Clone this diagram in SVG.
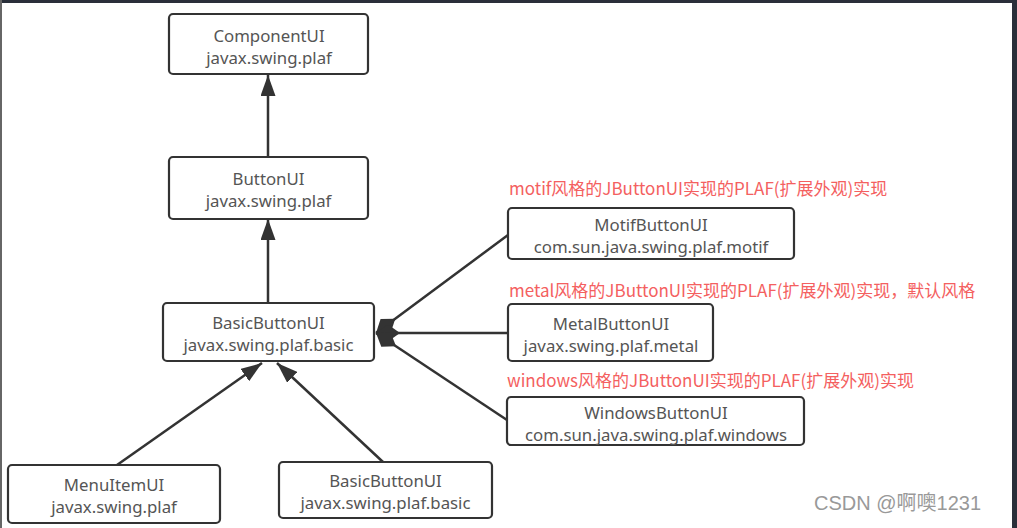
<svg xmlns="http://www.w3.org/2000/svg" width="1017" height="528" viewBox="0 0 1017 528">
<style>
.box{fill:#fff;stroke:#333;stroke-width:2.2}
.t{font-family:"Noto Sans","Noto Sans CJK SC",sans-serif;font-size:16.8px;fill:#555;text-anchor:middle}
.lbl{font-family:"Noto Sans CJK SC","Noto Sans",sans-serif;font-size:17px;fill:#f46060}
.ln{stroke:#333;stroke-width:2.5;fill:none}
</style>
<defs>
<marker id="tri" viewBox="0 0 21 15" refX="21" refY="7.5" markerWidth="21" markerHeight="15" markerUnits="userSpaceOnUse" orient="auto"><path d="M0,0 L21,7.5 L0,15 Z" fill="#333"/></marker>
<marker id="dia" viewBox="0 0 24 17" refX="24" refY="8.5" markerWidth="24" markerHeight="17" markerUnits="userSpaceOnUse" orient="auto"><path d="M0,8.5 L12,0 L24,8.5 L12,17 Z" fill="#333"/></marker>
</defs>
<rect x="0" y="0" width="1017" height="528" fill="#fff"/>
<rect x="0" y="0" width="1017" height="3" fill="#2a2f3a"/>
<rect x="0" y="0" width="2" height="528" fill="#666"/>
<rect x="1012" y="0" width="5" height="528" fill="#2a2f3a"/>
<g id="connectors">
<line class="ln" x1="268" y1="157" x2="268" y2="75" marker-end="url(#tri)"/>
<line class="ln" x1="268" y1="303" x2="268" y2="219" marker-end="url(#tri)"/>
<line class="ln" x1="117" y1="465" x2="262" y2="363" marker-end="url(#tri)"/>
<line class="ln" x1="383" y1="462" x2="277" y2="363" marker-end="url(#tri)"/>
<line class="ln" x1="508" y1="235" x2="376" y2="333" marker-end="url(#dia)"/>
<line class="ln" x1="508" y1="333" x2="376" y2="333" marker-end="url(#dia)"/>
<line class="ln" x1="507" y1="420" x2="376" y2="333" marker-end="url(#dia)"/>
</g>
<g id="componentui"><rect class="box" x="169" y="14" width="199" height="60" rx="4"/><text class="t" x="269" y="42">ComponentUI</text><text class="t" x="269" y="64">javax.swing.plaf</text></g>
<g id="buttonui"><rect class="box" x="169" y="157" width="199" height="62" rx="4"/><text class="t" x="268.5" y="185">ButtonUI</text><text class="t" x="268.5" y="207">javax.swing.plaf</text></g>
<g id="basicbuttonui"><rect class="box" x="163" y="303" width="211" height="58" rx="4"/><text class="t" x="268.5" y="329">BasicButtonUI</text><text class="t" x="268.5" y="351">javax.swing.plaf.basic</text></g>
<g id="motifbuttonui"><rect class="box" x="508" y="208" width="286" height="51" rx="4"/><text class="t" x="651" y="231">MotifButtonUI</text><text class="t" x="651" y="253">com.sun.java.swing.plaf.motif</text></g>
<g id="metalbuttonui"><rect class="box" x="508" y="304" width="205" height="57" rx="4"/><text class="t" x="611" y="330">MetalButtonUI</text><text class="t" x="611" y="352">javax.swing.plaf.metal</text></g>
<g id="windowsbuttonui"><rect class="box" x="507" y="397" width="297" height="48" rx="4"/><text class="t" x="656" y="419">WindowsButtonUI</text><text class="t" x="656" y="441">com.sun.java.swing.plaf.windows</text></g>
<g id="menuitemui"><rect class="box" x="8" y="465" width="212" height="58" rx="4"/><text class="t" x="114" y="491">MenuItemUI</text><text class="t" x="114" y="513">javax.swing.plaf</text></g>
<g id="basicbuttonui2"><rect class="box" x="279" y="462" width="213" height="56" rx="4"/><text class="t" x="385.5" y="487">BasicButtonUI</text><text class="t" x="385.5" y="509">javax.swing.plaf.basic</text></g>
<g id="labels">
<text class="lbl" x="509" y="195">motif风格的JButtonUI实现的PLAF(扩展外观)实现</text>
<text class="lbl" x="509" y="297">metal风格的JButtonUI实现的PLAF(扩展外观)实现，默认风格</text>
<text class="lbl" x="507" y="387">windows风格的JButtonUI实现的PLAF(扩展外观)实现</text>
</g>
<text x="814" y="510" font-family="'Liberation Sans','Noto Sans CJK SC',sans-serif" font-size="20" fill="#999">CSDN @啊噢1231</text>
</svg>
